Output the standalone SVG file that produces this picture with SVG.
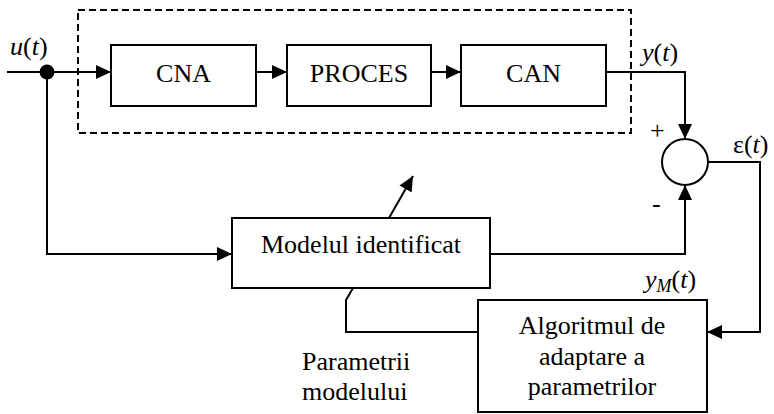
<svg xmlns="http://www.w3.org/2000/svg" width="774" height="414" viewBox="0 0 774 414">
<style>
.box{fill:#fff;stroke:#000;stroke-width:2}
.ln{fill:none;stroke:#000;stroke-width:2}
text{font-size:26px;fill:#000}
.i{font-style:italic}
</style>
<defs>
<marker id="ah" markerUnits="userSpaceOnUse" markerWidth="15" markerHeight="14" refX="15" refY="7" orient="auto">
<path d="M0,0 L15,7 L0,14 z" fill="#000"/>
</marker>
</defs>
<rect x="78" y="10" width="553" height="123" fill="none" stroke="#000" stroke-width="2" stroke-dasharray="7,4"/>
<g id="connectors">
<path class="ln" d="M7,72 H111" marker-end="url(#ah)"/>
<path class="ln" d="M47,72 V254 H232" marker-end="url(#ah)"/>
<path class="ln" d="M256,72 H287" marker-end="url(#ah)"/>
<path class="ln" d="M431,72 H461" marker-end="url(#ah)"/>
<path class="ln" d="M606,72 H685 V139" marker-end="url(#ah)"/>
<path class="ln" d="M490,254 H685 V185" marker-end="url(#ah)"/>
<path class="ln" d="M708,162 H760 V332 H707" marker-end="url(#ah)"/>
<path class="ln" d="M478,332 H346 V300 L353,288"/>
<path class="ln" d="M389,218 L413,176" marker-end="url(#ah)"/>
<circle cx="47" cy="72" r="7.5" fill="#000"/>
</g>
<g font-family="Liberation Serif, Times New Roman, DejaVu Serif, serif">
<g id="cna"><rect class="box" x="111" y="45" width="145" height="61"/><text x="183.5" y="82" text-anchor="middle">CNA</text></g>
<g id="proces"><rect class="box" x="287" y="45" width="144" height="61"/><text x="359" y="82" text-anchor="middle">PROCES</text></g>
<g id="can"><rect class="box" x="461" y="45" width="145" height="61"/><text x="533.5" y="82" text-anchor="middle">CAN</text></g>
<g id="sum"><circle cx="685" cy="162" r="23" fill="#fff" stroke="#000" stroke-width="2"/></g>
<g id="model"><rect class="box" x="232" y="218" width="258" height="70"/><text x="361" y="253" text-anchor="middle">Modelul identificat</text></g>
<g id="algoritm"><rect class="box" x="478" y="300" width="229" height="112"/>
<text x="592" y="334" text-anchor="middle">Algoritmul de</text>
<text x="592" y="365" text-anchor="middle">adaptare a</text>
<text x="592" y="395" text-anchor="middle">parametrilor</text></g>
<g id="labels">
<text x="10" y="55"><tspan class="i">u</tspan>(<tspan class="i">t</tspan>)</text>
<text x="642" y="61"><tspan class="i">y</tspan>(<tspan class="i">t</tspan>)</text>
<text x="733" y="153">ε(<tspan class="i">t</tspan>)</text>
<text x="645" y="288"><tspan class="i">y<tspan font-size="18" dy="4">M</tspan></tspan><tspan dy="-4">(</tspan><tspan class="i">t</tspan>)</text>
<text x="650" y="139">+</text>
<text x="652" y="212">-</text>
<text x="302" y="370">Parametrii</text>
<text x="302" y="400">modelului</text>
</g>
</g>
</svg>
